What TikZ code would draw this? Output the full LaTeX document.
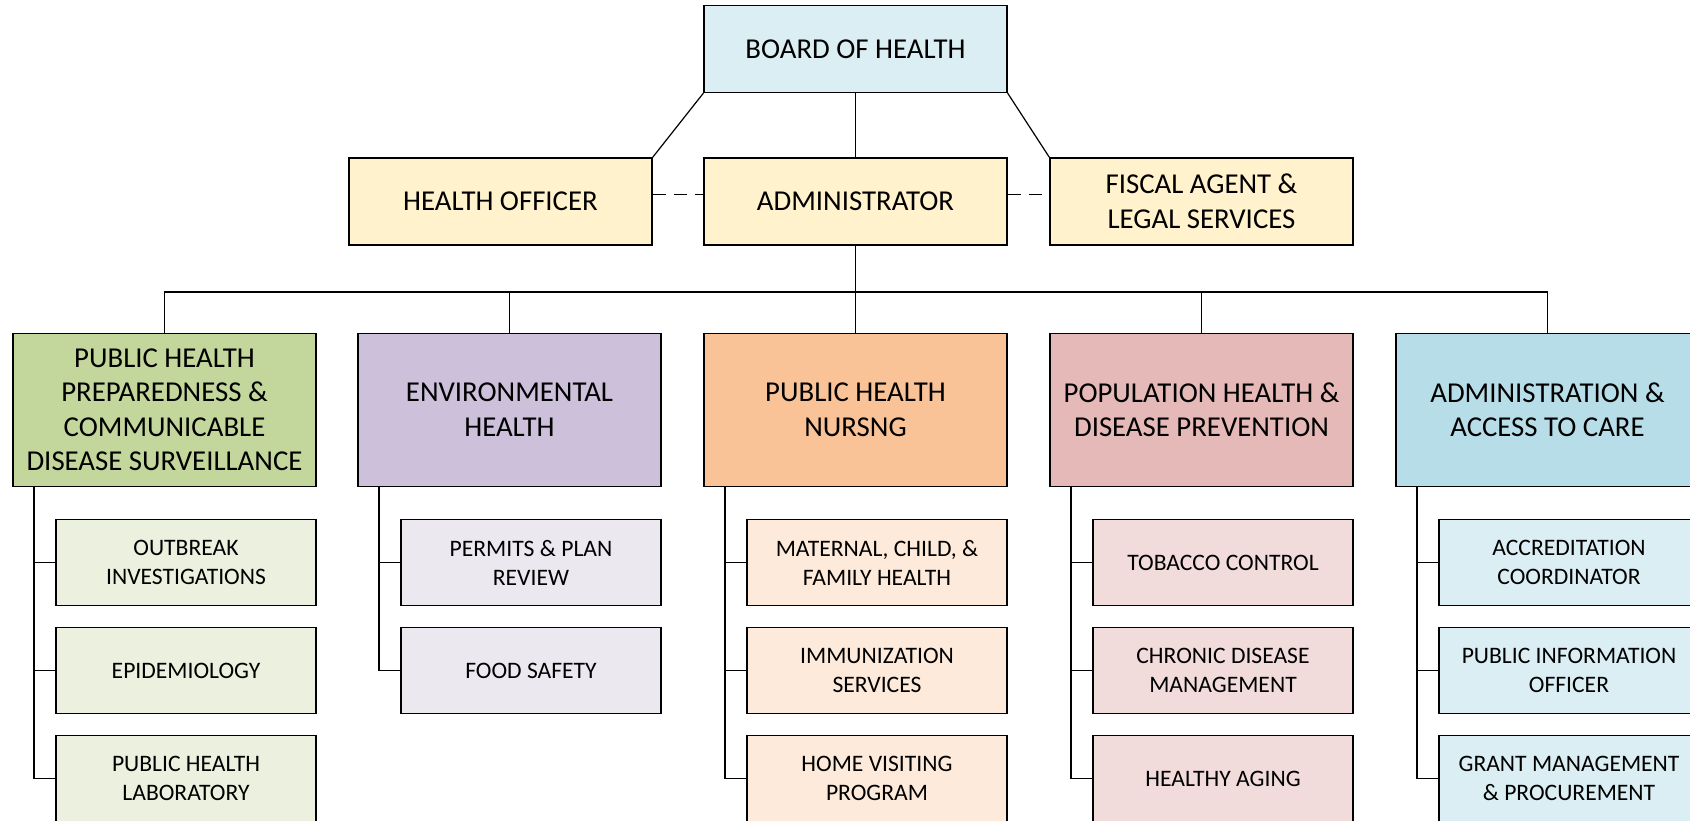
\documentclass[tikz,border=0pt]{standalone}
\usepackage{fontspec}
\setmainfont{Carlito}
\usepackage{xcolor}
\usepackage{tikz}

\definecolor{boardblue}{RGB}{218,238,243}
\definecolor{topyellow}{RGB}{255,242,204}
\definecolor{prepgreen}{RGB}{195,214,155}
\definecolor{prepgreenlt}{RGB}{235,241,222}
\definecolor{envpurple}{RGB}{204,192,218}
\definecolor{envpurplelt}{RGB}{235,232,240}
\definecolor{nursorange}{RGB}{249,195,151}
\definecolor{nursorangelt}{RGB}{253,234,218}
\definecolor{poppink}{RGB}{229,185,183}
\definecolor{poppinklt}{RGB}{242,220,219}
\definecolor{admblue}{RGB}{183,222,232}
\definecolor{admbluelt}{RGB}{218,238,243}

\begin{document}
\begin{tikzpicture}[x=0.5pt, y=-0.5pt, line width=0.6pt,
		topbox/.style={draw, align=center, minimum width=151.5pt, minimum height=43.5pt, inner sep=2pt, font=\fontsize{14.4}{17.3}\selectfont},
		deptbox/.style={draw, align=center, minimum width=151.5pt, minimum height=76.5pt, inner sep=2pt, font=\fontsize{14.4}{17.3}\selectfont},
		unitbox/.style={draw, align=center, minimum width=130pt, minimum height=43.25pt, inner sep=2pt, font=\fontsize{11.8}{14.5}\selectfont},
		dotted link/.style={dash pattern=on 6.5pt off 4pt}]
		\useasboundingbox (0, 0) rectangle (1690, 820);
		\clip (0, 0) rectangle (1690, 820);

		% top of the chart
		\node[topbox, fill=boardblue] at (855.5, 49) (board) {BOARD OF HEALTH};
		\node[topbox, fill=topyellow] at (500.5, 201.5) (ho) {HEALTH OFFICER};
		\node[topbox, fill=topyellow] at (855.5, 201.5) (adm) {ADMINISTRATOR};
		\node[topbox, fill=topyellow] at (1201.5, 201.5) (fis) {FISCAL AGENT \&\\LEGAL SERVICES};

		\draw (board.south) -- (adm.north);
		\draw (board.south west) -- (ho.north east);
		\draw (board.south east) -- (fis.north west);
		\draw[dotted link] ([yshift=3.5pt]ho.east) -- ([yshift=3.5pt]adm.west);
		\draw[dotted link] ([yshift=3.5pt]adm.east) -- ([yshift=3.5pt]fis.west);

		% departments
		\node[deptbox, fill=prepgreen] at (164.5, 409.7) (prep) {PUBLIC HEALTH\\PREPAREDNESS \&\\COMMUNICABLE\\DISEASE SURVEILLANCE};
		\node[deptbox, fill=envpurple] at (509.5, 409.7) (env) {ENVIRONMENTAL\\HEALTH};
		\node[deptbox, fill=nursorange] at (855.5, 409.7) (nurs) {PUBLIC HEALTH\\NURSNG};
		\node[deptbox, fill=poppink] at (1201.5, 409.7) (pop) {POPULATION HEALTH \&\\DISEASE PREVENTION};
		\node[deptbox, fill=admblue] at (1547.5, 409.7) (acc) {ADMINISTRATION \&\\ACCESS TO CARE};

		\coordinate (bus) at (855.5, 292);
		\draw (adm.south) -- (bus);
		\draw (bus) -| (prep.north);
		\draw (bus) -| (env.north);
		\draw (bus) -- (nurs.north);
		\draw (bus) -| (pop.north);
		\draw (bus) -| (acc.north);

		% units under each department
		\node[unitbox, fill=prepgreenlt] at (186, 562.5) (outb) {OUTBREAK\\INVESTIGATIONS};
		\node[unitbox, fill=prepgreenlt] at (186, 670.5) (epi) {EPIDEMIOLOGY};
		\node[unitbox, fill=prepgreenlt] at (186, 778.5) (lab) {PUBLIC HEALTH\\LABORATORY};

		\node[unitbox, fill=envpurplelt] at (531, 562.5) (perm) {PERMITS \& PLAN\\REVIEW};
		\node[unitbox, fill=envpurplelt] at (531, 670.5) (food) {FOOD SAFETY};

		\node[unitbox, fill=nursorangelt] at (877, 562.5) (mch) {MATERNAL, CHILD, \&\\FAMILY HEALTH};
		\node[unitbox, fill=nursorangelt] at (877, 670.5) (imm) {IMMUNIZATION\\SERVICES};
		\node[unitbox, fill=nursorangelt] at (877, 778.5) (home) {HOME VISITING\\PROGRAM};

		\node[unitbox, fill=poppinklt] at (1223, 562.5) (tob) {TOBACCO CONTROL};
		\node[unitbox, fill=poppinklt] at (1223, 670.5) (chron) {CHRONIC DISEASE\\MANAGEMENT};
		\node[unitbox, fill=poppinklt] at (1223, 778.5) (aging) {HEALTHY AGING};

		\node[unitbox, fill=admbluelt] at (1569, 562.5) (accr) {ACCREDITATION\\COORDINATOR};
		\node[unitbox, fill=admbluelt] at (1569, 670.5) (pio) {PUBLIC INFORMATION\\OFFICER};
		\node[unitbox, fill=admbluelt] at (1569, 778.5) (grant) {GRANT MANAGEMENT\\\& PROCUREMENT};

		\draw ([xshift=10.75pt]prep.south west) |- (outb.west);
		\draw ([xshift=10.75pt]prep.south west) |- (epi.west);
		\draw ([xshift=10.75pt]prep.south west) |- (lab.west);

		\draw ([xshift=10.75pt]env.south west) |- (perm.west);
		\draw ([xshift=10.75pt]env.south west) |- (food.west);

		\draw ([xshift=10.75pt]nurs.south west) |- (mch.west);
		\draw ([xshift=10.75pt]nurs.south west) |- (imm.west);
		\draw ([xshift=10.75pt]nurs.south west) |- (home.west);

		\draw ([xshift=10.75pt]pop.south west) |- (tob.west);
		\draw ([xshift=10.75pt]pop.south west) |- (chron.west);
		\draw ([xshift=10.75pt]pop.south west) |- (aging.west);

		\draw ([xshift=10.75pt]acc.south west) |- (accr.west);
		\draw ([xshift=10.75pt]acc.south west) |- (pio.west);
		\draw ([xshift=10.75pt]acc.south west) |- (grant.west);
	\end{tikzpicture}
\end{document}
